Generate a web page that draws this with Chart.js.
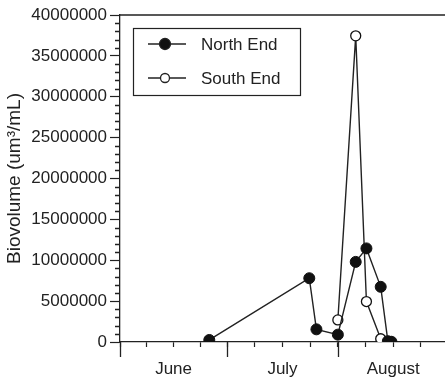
<!DOCTYPE html>
<html>
<head>
<meta charset="utf-8">
<script src="https://cdn.jsdelivr.net/npm/chart.js@4/dist/chart.umd.min.js"></script>
<style>
  html, body { margin: 0; padding: 0; background: #fff; }
  #wrap { width: 445px; height: 381px; }
</style>
</head>
<body>
<div id="wrap"><canvas id="bio_chart"></canvas></div>
<script>
// days counted from June 1
var monthNames = ["June", "July", "August"];
var monthStarts = [0, 30, 61, 92];

var north_days = [25, 53, 55, 61, 66, 69, 73, 75, 76];
var north_vals = [250000, 7800000, 1550000, 900000, 9800000, 11450000, 6750000, 100000, 30000];
var south_days = [61, 66, 69, 73, 75.5];
var south_vals = [2700000, 37450000, 4950000, 400000, 50000];

var yTicks = [0, 5000000, 10000000, 15000000, 20000000, 25000000, 30000000, 35000000, 40000000];

var ink = "#222";
var fontFam = "'Liberation Sans', Arial, sans-serif";

function pts(xs, ys) {
    return xs.map(function (x, i) { return { x: x, y: ys[i] }; });
}

// quarter-month tick positions, label sits on the middle one
var xTickList = [], xLabelAt = {};
for (var m = 0; m < monthNames.length; m++) {
    var s = monthStarts[m], len = monthStarts[m + 1] - s;
    for (var q = 0; q < 4; q++) {
        var v = s + q * len / 4;
        xTickList.push(v);
        if (q == 2) xLabelAt[v] = monthNames[m];
    }
}

var extras = {
    id: "extras",
    afterDraw: function (chart) {
        var c = chart.ctx, a = chart.chartArea;
        var xs = chart.scales.x, ys = chart.scales.y;
        c.save();
        c.strokeStyle = ink;
        c.lineWidth = 1.3;
        c.beginPath();
        // top frame line
        c.moveTo(a.left, a.top); c.lineTo(a.right, a.top);
        // long ticks on month boundaries
        monthStarts.forEach(function (d) {
            if (d > xs.max) return;
            var px = Math.round(xs.getPixelForValue(d)) + 0.5;
            c.moveTo(px, a.bottom); c.lineTo(px, a.bottom + 15);
        });
        // minor y ticks every 1000000
        for (var v = 0; v <= ys.max; v += 1000000) {
            if (v % 5000000 == 0) continue;
            var py = Math.round(ys.getPixelForValue(v)) + 0.5;
            c.moveTo(a.left - 5, py); c.lineTo(a.left, py);
        }
        c.stroke();

        // legend box
        var bx = 133, by = 28, bw = 167, bh = 67;
        c.lineWidth = 1.2;
        c.strokeRect(bx + 0.5, by + 0.5, bw, bh);
        c.font = "17px " + fontFam;
        c.textBaseline = "middle";
        c.fillStyle = ink;
        chart.data.datasets.forEach(function (ds, i) {
            var ry = by + 16 + i * 34;
            c.beginPath();
            c.lineWidth = 1.3;
            c.moveTo(bx + 15, ry); c.lineTo(bx + 53, ry);
            c.stroke();
            c.beginPath();
            c.arc(bx + 32, ry, i == 0 ? 5.5 : 4.5, 0, Math.PI * 2);
            c.fillStyle = ds.pointBackgroundColor;
            c.fill();
            c.stroke();
            c.fillStyle = ink;
            c.fillText(ds.label, bx + 68, ry + 1);
        });
        c.restore();
    }
};

new Chart(document.getElementById("bio_chart"), {
    type: "line",
    data: {
        datasets: [
            {   label: "North End",
                data: pts(north_days, north_vals),
                borderColor: ink, borderWidth: 1.4,
                pointBackgroundColor: "#111", pointBorderColor: "#111",
                pointRadius: 5.5, pointBorderWidth: 1, tension: 0
            },
            {   label: "South End",
                data: pts(south_days, south_vals),
                borderColor: ink, borderWidth: 1.4,
                pointBackgroundColor: "#fff", pointBorderColor: "#111",
                pointRadius: 5, pointBorderWidth: 1.3, tension: 0
            }
        ]
    },
    options: {
        responsive: true, maintainAspectRatio: false, animation: false,
        layout: { autoPadding: false, padding: { top: 15, left: 0, right: 0, bottom: 0 } },
        plugins: { legend: { display: false }, tooltip: { enabled: false } },
        scales: {
            x: {
                type: "linear", min: 0, max: 91,
                afterBuildTicks: function (sc) {
                    sc.ticks = xTickList.map(function (v) { return { value: v }; });
                },
                afterFit: function (sc) { sc.height = 39; sc.paddingRight = 0; sc.paddingLeft = 0; },
                grid: { drawOnChartArea: false, tickLength: 5, tickColor: ink, tickWidth: 1.2 },
                border: { color: ink, width: 1.3 },
                ticks: {
                    autoSkip: false, maxRotation: 0, padding: 12, color: ink,
                    font: { family: fontFam, size: 17 },
                    callback: function (v) { return xLabelAt[v] || ""; }
                }
            },
            y: {
                min: 0, max: 40000000,
                afterBuildTicks: function (sc) {
                    sc.ticks = yTicks.map(function (v) { return { value: v }; });
                },
                afterFit: function (sc) { sc.width = 120; },
                grid: { drawOnChartArea: false, tickLength: 10, tickColor: ink, tickWidth: 1.2 },
                border: { color: ink, width: 1.3 },
                ticks: {
                    padding: 3, color: ink,
                    font: { family: fontFam, size: 17 },
                    callback: function (v) { return String(v); }
                },
                title: {
                    display: true, text: "Biovolume (um\u00b3/mL)", color: ink,
                    font: { family: fontFam, size: 19 }, padding: { top: 3, bottom: 0 }
                }
            }
        }
    },
    plugins: [extras]
});
</script>
</body>
</html>
